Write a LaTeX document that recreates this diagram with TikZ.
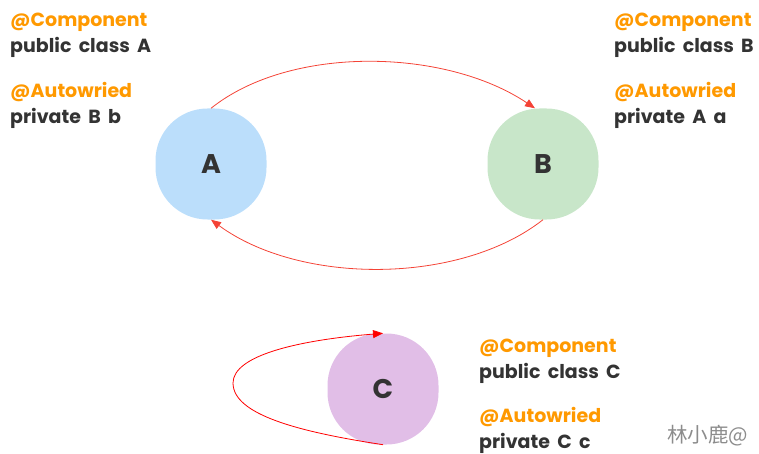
\documentclass[tikz,border=0pt]{standalone}
\usepackage{fontspec}
\setmainfont{Poppins}[WordSpace=1.8]
\newfontfamily\cjkfont{Noto Sans CJK SC}
\usetikzlibrary{arrows.meta}
\definecolor{ora}{HTML}{FF9900}
\definecolor{dark}{HTML}{333333}
\definecolor{blueA}{HTML}{BBDEFB}
\definecolor{greenB}{HTML}{C8E6C9}
\definecolor{purpleC}{HTML}{E1BEE7}
\definecolor{arr}{HTML}{F44336}
\tikzset{
  blob/.style={rectangle, rounded corners=52pt, minimum size=111pt, inner sep=0pt, text=dark, font=\fontsize{27}{30}\selectfont\bfseries},
  anno/.style={anchor=base west, inner sep=0pt, text=ora, font=\fontsize{19}{22}\selectfont\bfseries},
  code/.style={anchor=base west, inner sep=0pt, text=dark, font=\fontsize{19}{22}\selectfont\bfseries},
  link/.style={draw=arr, line width=0.8pt, -{Triangle[length=10pt,width=8pt]}},
}
\begin{document}
\begin{tikzpicture}[x=1pt,y=-1pt]
\useasboundingbox (0,0) rectangle (759,454);
\node[blob, fill=blueA] (a) at (211,164) {A};
\node[blob, fill=greenB] (b) at (543,164) {B};
\node[blob, fill=purpleC] (c) at (383,389) {C};
% texts A
\node[anno] (a1) at (10,27) {@Component};
\node[code] (a2) at (10,53) {public class A};
\node[anno] (a3) at (10,98) {@Autowried};
\node[code] (a4) at (10,124) {private B b};
% texts B
\node[anno] (b1) at (614,27) {@Component};
\node[code] (b2) at (614,53) {public class B};
\node[anno] (b3) at (614,98) {@Autowried};
\node[code] (b4) at (614,124) {private A a};
% texts C
\node[anno] (c1) at (479,352) {@Component};
\node[code] (c2) at (479,378) {public class C};
\node[anno] (c3) at (479,422) {@Autowried};
\node[code] (c4) at (479,448) {private C c};
% watermark
\node[anchor=base west, inner sep=0pt, text=black!45, font=\cjkfont\fontsize{20.5}{23}\selectfont] (wm) at (667,442) {林小鹿@};
% connectors
\coordinate (bin) at ([xshift=-8pt]b.north);
\coordinate (cl) at (233,383);
\draw[link] (a.north) .. controls (290,45) and (445,48) .. (bin);
\draw[link] (b.south) .. controls (460,285) and (300,285) .. (a.south);
\draw[link, draw=red] (c.south) .. controls (300,432) and (233,415) .. (cl) .. controls (233,355) and (300,340) .. (c.north);
\end{tikzpicture}
\end{document}
